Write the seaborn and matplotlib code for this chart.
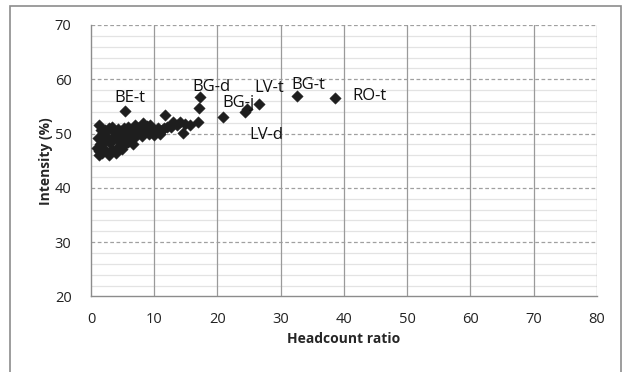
import matplotlib
matplotlib.use("Agg")
import matplotlib.pyplot as plt
import seaborn as sns
import pandas as pd
from matplotlib.patches import Rectangle

# ---- data ----
cluster_x = [1.2, 1.6, 1.9, 1.1, 1.4, 1.0, 1.3, 1.2, 1.8, 2.1, 2.4, 2.6, 2.2, 2.8,
             2.9, 3.3, 3.0, 3.5, 3.7, 3.4, 4.0, 4.2, 4.5, 4.1, 4.7, 4.3, 4.9, 5.3,
             5.0, 5.5, 5.2, 5.8, 6.1, 6.3, 5.9, 6.6, 6.8, 7.1, 7.4, 6.9, 7.7, 8.0,
             8.3, 8.6, 8.9, 9.1, 9.4, 9.7, 10.0, 10.3, 10.6, 10.9, 11.2, 11.5, 11.7,
             12.1, 12.7, 13.0, 13.6, 14.1, 14.5, 14.9, 15.7, 17.0]
cluster_y = [51.6, 50.7, 50.1, 49.2, 48.1, 47.4, 46.8, 46.0, 46.4, 47.2, 48.9, 49.4, 50.6, 51.1,
             46.1, 46.9, 48.3, 49.1, 50.3, 51.3, 46.5, 47.6, 48.7, 49.7, 50.5, 50.9, 47.2, 47.9,
             49.0, 49.8, 51.1, 48.5, 49.4, 50.5, 51.2, 48.1, 49.2, 50.1, 51.0, 51.6, 50.7, 49.6,
             51.9, 50.3, 51.4, 50.0, 51.5, 50.9, 49.7, 50.4, 51.1, 50.0, 50.6, 51.0, 53.4,
             51.3, 51.2, 52.1, 51.6, 52.1, 50.1, 51.8, 51.5, 52.1]
named_x = [5.4, 17.3, 17.1, 20.8, 24.3, 24.6, 26.6, 32.6, 38.6]
named_y = [54.2, 56.7, 54.7, 53.0, 53.9, 54.5, 55.5, 57.0, 56.6]

label_text = ["BE-t", "BG-d", "BG-j", "LV-t", "LV-d", "BG-t", "RO-t"]
label_x = [6.1, 19.0, 23.3, 28.2, 27.8, 34.3, 44.0]
label_y = [56.6, 58.5, 55.6, 58.4, 49.8, 58.9, 57.0]

x_ticks = [0, 10, 20, 30, 40, 50, 60, 70, 80]
y_ticks = [20, 30, 40, 50, 60, 70]

df = pd.DataFrame({"x": cluster_x + named_x, "y": cluster_y + named_y})

# ---- plot ----
sns.set_style("white")
plt.rcParams["font.family"] = ["Open Sans", "DejaVu Sans"]

fig = plt.figure(figsize=(6.27, 3.72), dpi=100)
ax = fig.add_axes([0.1451, 0.203, 0.952 - 0.1451, 0.9328 - 0.203])

# outer frame
fig.patches.append(Rectangle((10 / 627, -0.05), (621 - 10) / 627, 1 - 6 / 372 + 0.05,
                             transform=fig.transFigure, fill=False,
                             edgecolor="#8c8c8c", linewidth=1.2, zorder=0))

ax.set_xlim(0, 80)
ax.set_ylim(20, 70)
ax.set_xticks(x_ticks)
ax.set_yticks(y_ticks)

# minor horizontal gridlines
for v in range(22, 70, 2):
    if v % 10 != 0:
        ax.axhline(v, color="#e3e3e3", linewidth=0.9, zorder=0)
for v in y_ticks[1:]:
    ax.axhline(v, color="#a0a0a0", linewidth=0.9, linestyle=(0, (3, 2)), zorder=1)
for v in x_ticks[1:]:
    ax.axvline(v, color="#9a9a9a", linewidth=0.9, zorder=1)

sns.scatterplot(data=df, x="x", y="y", ax=ax, marker="D", s=34,
                color="#1e1e1e", edgecolor="#1e1e1e", linewidth=0.3, zorder=3)

for t, lx, ly in zip(label_text, label_x, label_y):
    ax.text(lx, ly, t, fontsize=12, ha="center", va="center", color="#111111", zorder=4)

for s in ["top", "right"]:
    ax.spines[s].set_visible(False)
for s in ["left", "bottom"]:
    ax.spines[s].set_color("#8c8c8c")
    ax.spines[s].set_linewidth(1.0)

ax.tick_params(axis="both", which="major", direction="out", length=5, width=0.9,
               color="#8c8c8c", labelsize=10.5, labelcolor="#222222")
ax.tick_params(axis="y", pad=9)
ax.tick_params(axis="x", pad=6)
ax.set_xlabel("Headcount ratio", fontsize=10, fontweight="bold", labelpad=4)
ax.set_ylabel("Intensity (%)", fontsize=10, fontweight="bold", labelpad=1)

fig.savefig("out.png", dpi=100)
